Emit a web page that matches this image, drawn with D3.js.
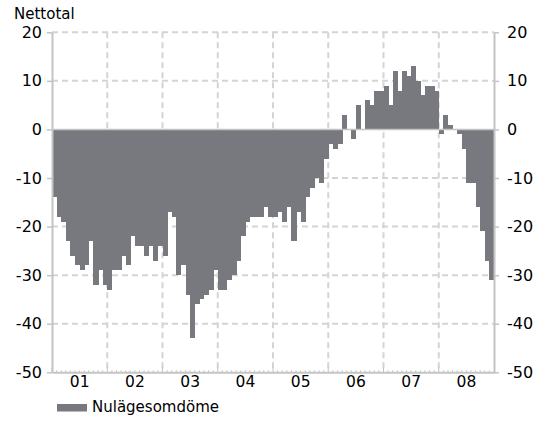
<!DOCTYPE html>
<html>
<head>
<meta charset="utf-8">
<script src="https://cdn.jsdelivr.net/npm/d3@7"></script>
<style>
  body { margin: 0; background: #fff; }
  text { font-family: "DejaVu Sans", Verdana, sans-serif; fill: #000; }
</style>
</head>
<body>
<div id="chart"></div>
<script>
const years = ["01", "02", "03", "04", "05", "06", "07", "08"]
const yTicks = [20, 10, 0, -10, -20, -30, -40, -50]
const seriesName = "Nulägesomdöme"
// monthly net balance, jan 2001 - dec 2008
const nulage = [
  -14, -18, -19, -23, -26, -28, -29, -28, -23, -32, -29, -32,
  -33, -29, -29, -26, -28, -22, -24, -24, -26, -24, -27, -24,
  -26, -17, -18, -30, -28, -34, -43, -36, -35, -34, -33, -29,
  -33, -33, -31, -30, -27, -22, -19, -18, -18, -18, -16, -18,
  -18, -17, -19, -16, -23, -17, -19, -14, -12, -10, -11, -6,
  -3, -4, -3, 3, 0, -2, 5, 0, 6, 5, 8, 8,
  9, 5, 12, 8, 12, 11, 13, 10, 7, 9, 9, 8,
  -1, 3, 1, 0, -1, -4, -11, -11, -16, -21, -27, -31
]

let width = 542, height = 421
let margin = { top: 32.3, right: 48, bottom: 48.7, left: 52 }

const svg = d3.select("div#chart").append("svg")
    .attr("width", width)
    .attr("height", height)

const x = d3.scaleBand()
    .domain(d3.range(nulage.length))
    .range([margin.left, width - margin.right])
    .padding(0)

const xYear = d3.scaleBand()
    .domain(years)
    .range([margin.left, width - margin.right])

const y = d3.scaleLinear()
    .domain([-50, 20])
    .range([height - margin.bottom, margin.top])

const gridColor = "#d4d4d4"
const axisColor = "#c4c4c4"

// grid
svg.append("g")
    .selectAll("line")
    .data(yTicks.filter(d => d != 0 && d != -50))
    .join("line")
    .attr("x1", margin.left)
    .attr("x2", width - margin.right)
    .attr("y1", d => y(d))
    .attr("y2", d => y(d))
    .attr("stroke", gridColor)
    .attr("stroke-width", 2)
    .attr("stroke-dasharray", "6,4")

svg.append("g")
    .selectAll("line")
    .data(years.slice(1))
    .join("line")
    .attr("x1", d => xYear(d))
    .attr("x2", d => xYear(d))
    .attr("y1", y(20))
    .attr("y2", y(-50))
    .attr("stroke", gridColor)
    .attr("stroke-width", 2)
    .attr("stroke-dasharray", "6,4")

// bars
svg.append("g")
    .attr("shape-rendering", "crispEdges")
    .selectAll("rect")
    .data(nulage)
    .join("rect")
    .attr("x", (d, i) => x(i))
    .attr("width", x.bandwidth() + 0.5)
    .attr("y", d => y(Math.max(0, d)))
    .attr("height", d => Math.abs(y(d) - y(0)))
    .attr("fill", "#78797e")

// zero line on top of bars
svg.append("line")
    .attr("x1", margin.left)
    .attr("x2", width - margin.right)
    .attr("y1", y(0))
    .attr("y2", y(0))
    .attr("stroke", axisColor)
    .attr("stroke-width", 1.6)

// axes
const styleAxis = g => {
  g.select(".domain").attr("stroke", axisColor).attr("stroke-width", 2)
  g.selectAll(".tick line").attr("stroke", axisColor).attr("stroke-width", 1.5)
  g.selectAll(".tick text").style("font-size", "16px").attr("fill", "#000")
}

svg.append("g")
    .attr("transform", `translate(${margin.left},0)`)
    .call(d3.axisLeft(y).tickValues(yTicks).tickFormat(d => d).tickSize(5).tickSizeOuter(0).tickPadding(5))
    .call(styleAxis)

svg.append("g")
    .attr("transform", `translate(${width - margin.right},0)`)
    .call(d3.axisRight(y).tickValues(yTicks).tickFormat(d => d).tickSize(5).tickSizeOuter(0).tickPadding(8))
    .call(styleAxis)

// monthly minor ticks
svg.append("g")
    .selectAll("line")
    .data(d3.range(nulage.length))
    .join("line")
    .attr("x1", d => x(d))
    .attr("x2", d => x(d))
    .attr("y1", y(-50))
    .attr("y2", d => y(-50) - (d % 12 == 0 ? 5 : 2))
    .attr("stroke", axisColor)
    .attr("stroke-width", 1)

svg.append("g")
    .attr("transform", `translate(0,${height - margin.bottom})`)
    .call(d3.axisBottom(xYear).tickSize(0).tickPadding(4))
    .call(styleAxis)
    .call(g => g.selectAll(".tick text").style("font-size", "15.5px"))

// title
svg.append("text")
    .attr("x", 14)
    .attr("y", 19)
    .style("font-size", "15px")
    .text("Nettotal")

// legend
svg.append("rect")
    .attr("x", 57)
    .attr("y", 404)
    .attr("width", 30)
    .attr("height", 7.5)
    .attr("fill", "#78797e")

svg.append("text")
    .attr("x", 92)
    .attr("y", 412)
    .style("font-size", "15px")
    .text(seriesName)
</script>
</body>
</html>
